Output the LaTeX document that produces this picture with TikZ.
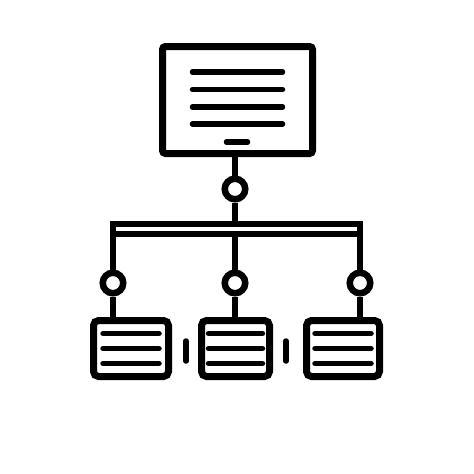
\documentclass[tikz,border=0pt]{standalone}
\usepackage{tikz}
\usetikzlibrary{positioning}
\tikzstyle{screen} = [rectangle, draw=black, line width=7pt, rounded corners=3pt, minimum width=150pt, minimum height=107pt]
\tikzstyle{card} = [rectangle, draw=black, line width=7pt, rounded corners=5pt, minimum height=56pt]
\tikzstyle{joint} = [circle, draw=black, line width=6.5pt, minimum size=20.5pt, inner sep=0pt]
\tikzstyle{bus} = [rectangle, draw=black, line width=6.5pt, minimum width=247pt, minimum height=10pt, inner sep=0pt]
\tikzstyle{wire} = [line width=6pt]
\tikzstyle{textline} = [line width=5.5pt, line cap=round]

\begin{document}
\begin{tikzpicture}[x=1pt, y=-1pt]
\useasboundingbox (0,0) rectangle (474,474);

% Nodes
\node (top) [screen] at (237.5,100) {};
\node (jtop) [joint] at (235,189) {};
\node (rail) [bus] at (236.5,229) {};
\node (jl) [joint] at (113,283) {};
\node (jm) [joint] at (235,283) {};
\node (jr) [joint] at (360,283) {};
\node (c1) [card, minimum width=75pt] at (131,348.5) {};
\node (c2) [card, minimum width=68pt] at (235.5,348.5) {};
\node (c3) [card, minimum width=73pt] at (343,348.5) {};

% Text lines
\foreach \dy in {-28,-10.5,7,24}
  \draw [textline] ([shift={(-45,\dy)}]top.center) -- ([shift={(45,\dy)}]top.center);
\draw [textline] ([shift={(-11,42)}]top.center) -- ([shift={(10,42)}]top.center);
\foreach \c/\w in {c1/28, c2/27, c3/28}
  \foreach \dy in {-15,0,15}
    \draw [textline] ([shift={(-\w,\dy)}]\c.center) -- ([shift={(\w,\dy)}]\c.center);

% Connectors
\draw [wire] (top.south -| jtop) -- (jtop.north);
\draw [wire] (jtop.south) -- (jtop.south |- rail.north);
\draw [wire] (jl.north |- rail.south) -- (jl.north);
\draw [wire] (jm.north |- rail.south) -- (jm.north);
\draw [wire] (jr.north |- rail.south) -- (jr.north);
\draw [wire] (jl.south) -- (jl.south |- c1.north);
\draw [wire] (jm.south) -- (jm.south |- c2.north);
\draw [wire] (jr.south) -- (jr.south |- c3.north);

% Separators
\draw [textline] (186,341) -- (186,361);
\draw [textline] (286,341) -- (286,361);

\end{tikzpicture}
\end{document}
